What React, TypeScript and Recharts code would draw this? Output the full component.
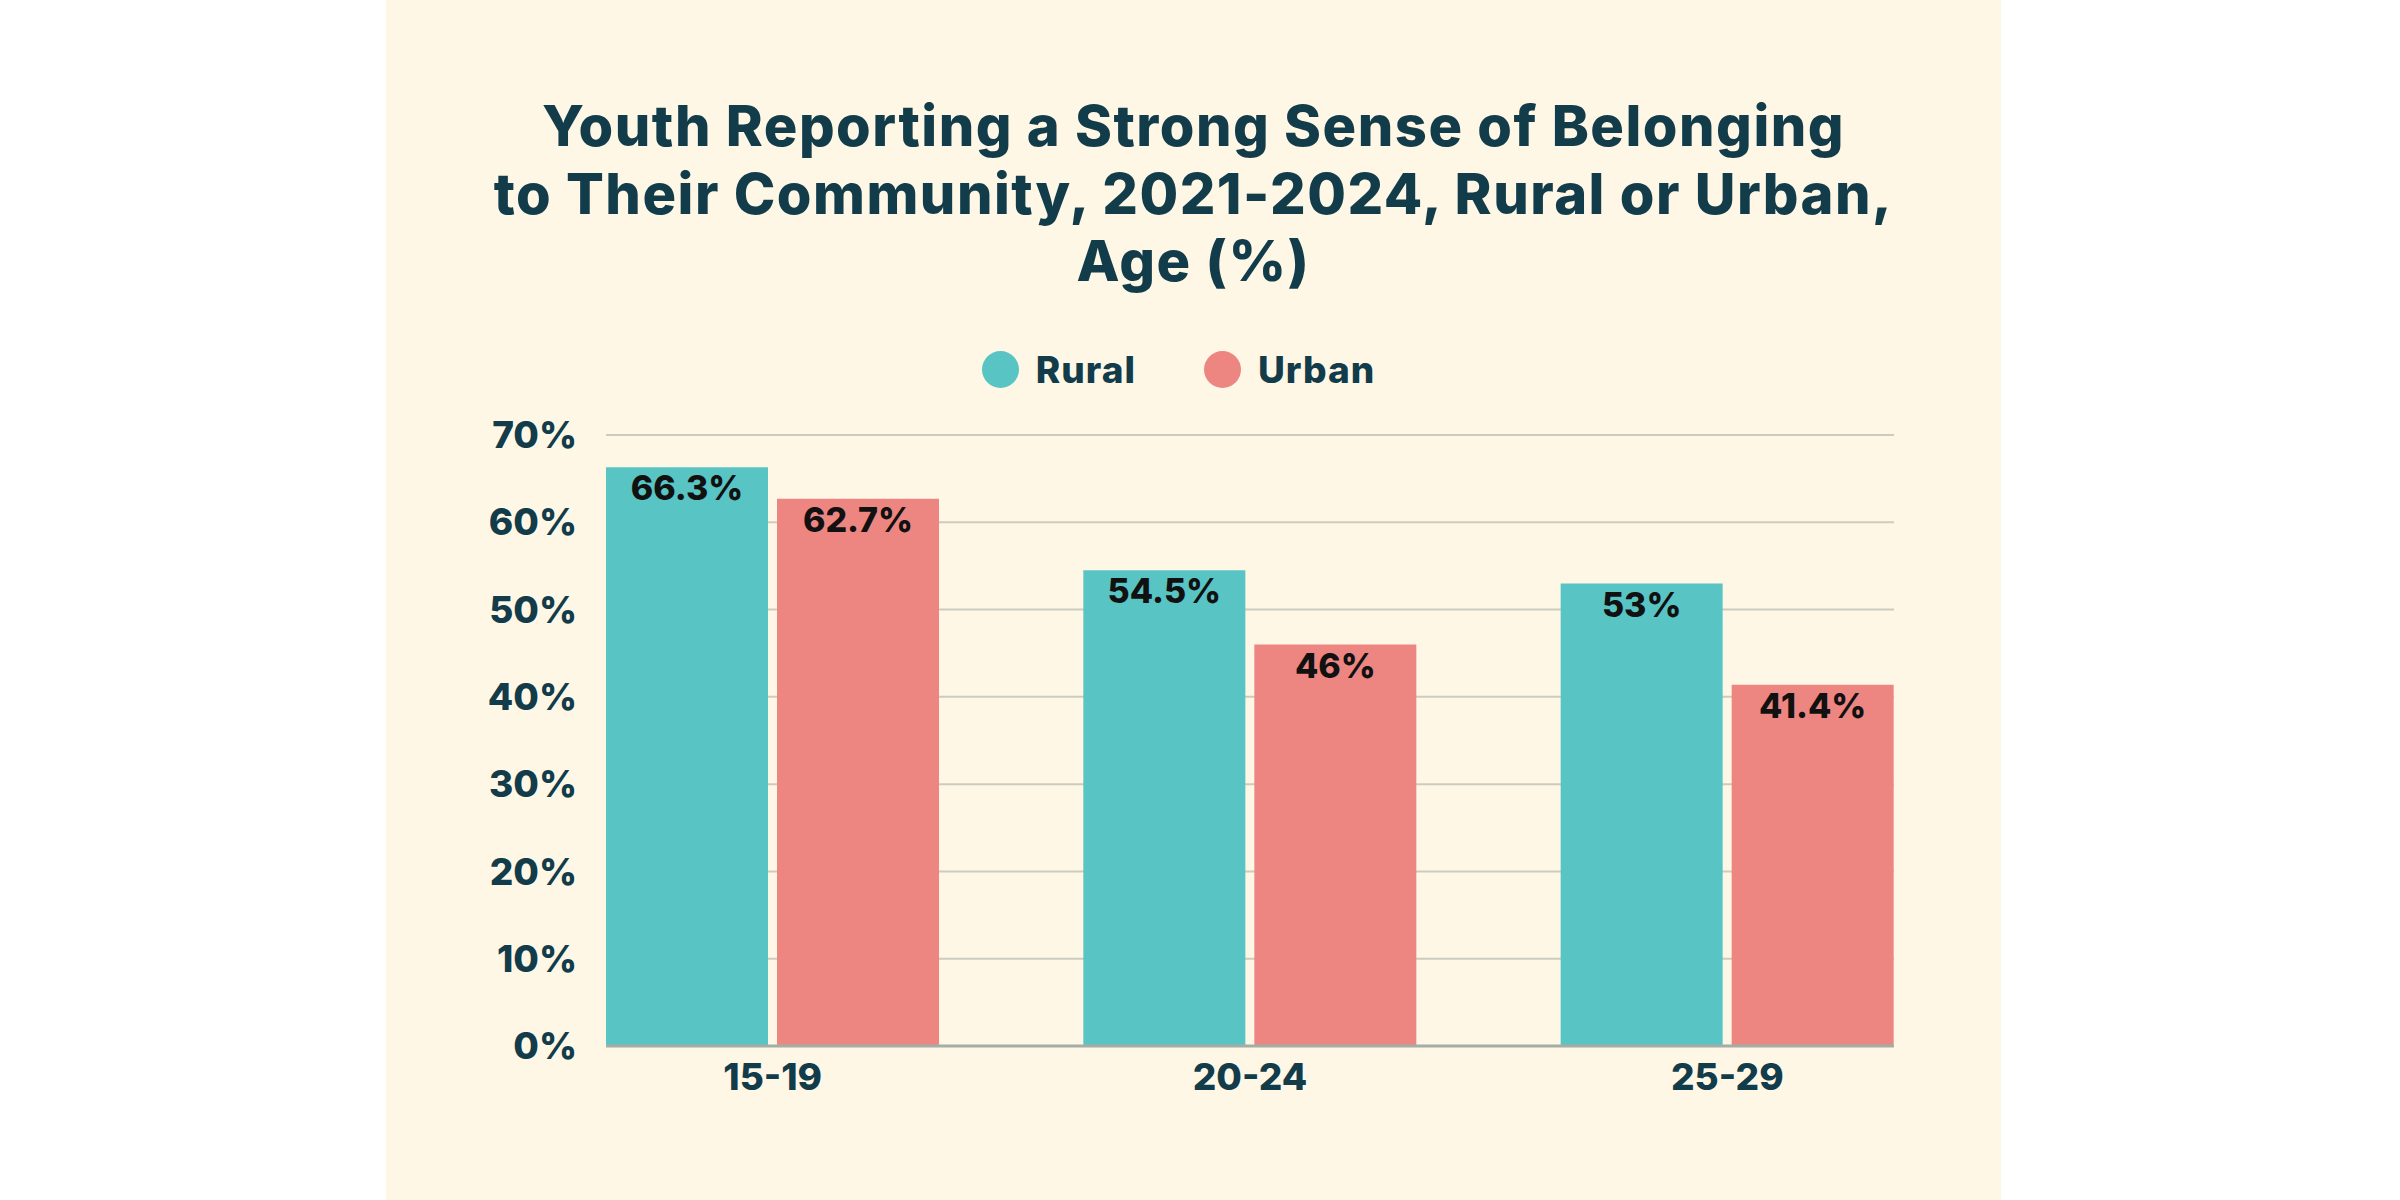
import React from 'react';
import { BarChart, Bar, XAxis, YAxis, CartesianGrid, Legend, LabelList } from 'recharts';

const ageGroups = ['15-19', '20-24', '25-29'];
const ruralValues = [66.3, 54.5, 53];
const urbanValues = [62.7, 46, 41.4];
const yTicks = [0, 10, 20, 30, 40, 50, 60, 70];
const titleLines = [
  'Youth Reporting a Strong Sense of Belonging',
  'to Their Community, 2021-2024, Rural or Urban,',
  'Age (%)'
];

const data = ageGroups.map((age, i) => ({
  age,
  rural: ruralValues[i],
  urban: urbanValues[i]
}));

const FONT = 'Inter, "Open Sans", sans-serif';
const INK = '#123C4A';
const RURAL = '#58C4C4';
const URBAN = '#ED8681';

const LegendContent = (props: any) => {
  const { payload } = props;
  return (
    <div style={{ display: 'flex', justifyContent: 'center', alignItems: 'center', fontFamily: FONT }}>
      {(payload || []).map((item: any, i: number) => (
        <div
          key={item.value}
          style={{ display: 'flex', alignItems: 'center', marginLeft: i === 0 ? 0 : 68 }}
        >
          <span
            style={{
              width: 37,
              height: 37,
              borderRadius: '50%',
              background: item.color,
              display: 'inline-block',
              marginRight: 17
            }}
          />
          <span style={{ color: INK, fontSize: 37, fontWeight: 800, letterSpacing: 1 }}>{item.value}</span>
        </div>
      ))}
    </div>
  );
};

export default function App() {
  return (
    <div style={{ position: 'absolute', left: 0, top: 0, width: 2400, height: 1200, background: '#ffffff' }}>
      <div
        style={{
          position: 'absolute',
          left: 386,
          top: 0,
          width: 1615,
          height: 1200,
          background: '#FEF7E6'
        }}
      >
        <div
          style={{
            position: 'absolute',
            left: 0,
            top: 93,
            width: 1615,
            textAlign: 'center',
            fontFamily: FONT,
            fontWeight: 800,
            fontSize: 56,
            letterSpacing: 1.5,
            lineHeight: '67.5px',
            color: INK
          }}
        >
          {titleLines.map((line) => (
            <div key={line}>{line}</div>
          ))}
        </div>
        <BarChart
          width={1615}
          height={1200}
          data={data}
          margin={{ top: 435, right: 107, bottom: 94, left: 120 }}
          barSize={162}
          barGap={9}
        >
          <CartesianGrid vertical={false} stroke="#CBCCC0" strokeWidth={2} />
          <XAxis
            dataKey="age"
            height={60}
            padding={{ left: -72, right: -72 }}
            axisLine={{ stroke: '#A4ADA6', strokeWidth: 3 }}
            tickLine={false}
            tickSize={0}
            tickMargin={18}
            tick={{ fill: INK, fontSize: 37, fontWeight: 800, fontFamily: FONT }}
          />
          <YAxis
            width={100}
            domain={[0, 70]}
            ticks={yTicks}
            tickFormatter={(v: number) => `${v}%`}
            axisLine={false}
            tickLine={false}
            tickSize={0}
            tickMargin={29}
            tick={{ fill: INK, fontSize: 37, fontWeight: 800, fontFamily: FONT }}
          />
          <Legend
            verticalAlign="middle"
            align="center"
            layout="horizontal"
            content={LegendContent}
            wrapperStyle={{ top: 347, left: -15, width: 1615 }}
          />
          <Bar dataKey="rural" name="Rural" fill={RURAL} isAnimationActive={false}>
            <LabelList
              dataKey="rural"
              position="insideTop"
              offset={9}
              formatter={(v: number) => `${v}%`}
              style={{ fill: '#111111', fontSize: 34, fontWeight: 800, fontFamily: FONT }}
            />
          </Bar>
          <Bar dataKey="urban" name="Urban" fill={URBAN} isAnimationActive={false}>
            <LabelList
              dataKey="urban"
              position="insideTop"
              offset={9}
              formatter={(v: number) => `${v}%`}
              style={{ fill: '#111111', fontSize: 34, fontWeight: 800, fontFamily: FONT }}
            />
          </Bar>
        </BarChart>
      </div>
    </div>
  );
}
